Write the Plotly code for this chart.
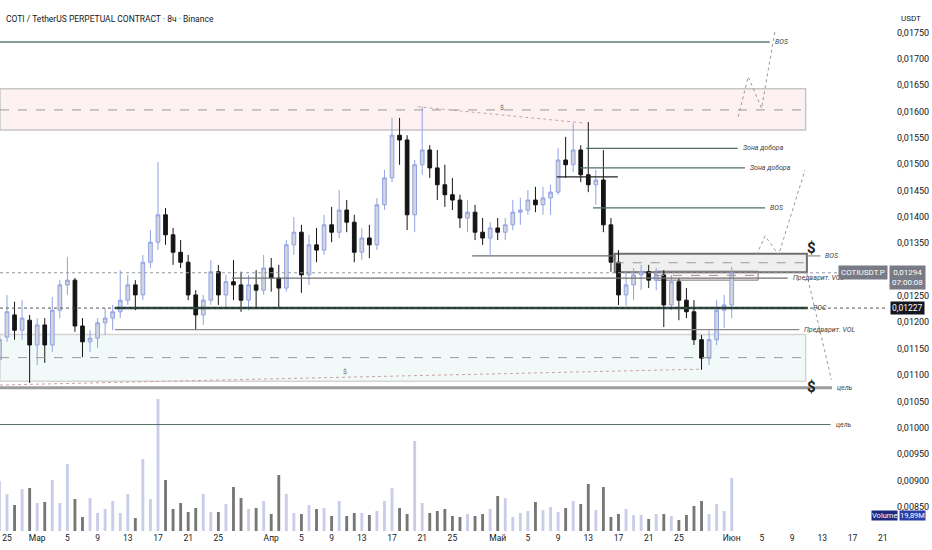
import pandas as pd
import plotly.graph_objects as go

start_day = "2026-02-24"

open_ = [0.01129, 0.01172, 0.01214, 0.01185, 0.01204, 0.01157, 0.01195, 0.01157, 0.01223, 0.01271,
         0.01280, 0.01193, 0.01163, 0.01170, 0.01199, 0.01208, 0.01220, 0.01242, 0.01271, 0.01252,
         0.01314, 0.01352, 0.01404, 0.01366, 0.01333, 0.01314, 0.01252, 0.01214, 0.01242, 0.01296,
         0.01252, 0.01277, 0.01271, 0.01242, 0.01271, 0.01261, 0.01303, 0.01284, 0.01265, 0.01347,
         0.01371, 0.01290, 0.01347, 0.01337, 0.01385, 0.01371, 0.01413, 0.01390, 0.01333, 0.01360,
         0.01347, 0.01423, 0.01474, 0.01555, 0.01546, 0.01404, 0.01499, 0.01527, 0.01493, 0.01461,
         0.01442, 0.01432, 0.01398, 0.01409, 0.01371, 0.01360, 0.01379, 0.01371, 0.01385, 0.01409,
         0.01413, 0.01432, 0.01423, 0.01436, 0.01447, 0.01508, 0.01499, 0.01527, 0.01480, 0.01461,
         0.01470, 0.01385, 0.01314, 0.01252, 0.01271, 0.01290, 0.01296, 0.01280, 0.01290, 0.01233,
         0.01277, 0.01242, 0.01220, 0.01167, 0.01132, 0.01167, 0.01223, 0.01233]
high_ = [0.01176, 0.01252, 0.01239, 0.01242, 0.01214, 0.01208, 0.01208, 0.01248, 0.01280, 0.01324,
         0.01284, 0.01208, 0.01185, 0.01208, 0.01227, 0.01233, 0.01299, 0.01290, 0.01280, 0.01328,
         0.01375, 0.01504, 0.01417, 0.01379, 0.01356, 0.01328, 0.01261, 0.01252, 0.01318, 0.01309,
         0.01290, 0.01318, 0.01296, 0.01290, 0.01299, 0.01328, 0.01322, 0.01309, 0.01356, 0.01400,
         0.01385, 0.01366, 0.01379, 0.01404, 0.01419, 0.01451, 0.01432, 0.01404, 0.01379, 0.01385,
         0.01436, 0.01489, 0.01588, 0.01588, 0.01555, 0.01508, 0.01609, 0.01536, 0.01527, 0.01499,
         0.01474, 0.01442, 0.01432, 0.01423, 0.01398, 0.01390, 0.01398, 0.01398, 0.01432, 0.01436,
         0.01451, 0.01457, 0.01457, 0.01461, 0.01531, 0.01552, 0.01578, 0.01536, 0.01580, 0.01489,
         0.01527, 0.01398, 0.01337, 0.01296, 0.01303, 0.01309, 0.01309, 0.01303, 0.01299, 0.01290,
         0.01284, 0.01265, 0.01242, 0.01176, 0.01185, 0.01242, 0.01252, 0.01305]
low_ = [0.01081, 0.01163, 0.01167, 0.01167, 0.01085, 0.01119, 0.01123, 0.01144, 0.01208, 0.01252,
        0.01182, 0.01134, 0.01144, 0.01151, 0.01176, 0.01185, 0.01208, 0.01233, 0.01223, 0.01242,
        0.01303, 0.01337, 0.01347, 0.01309, 0.01303, 0.01242, 0.01185, 0.01195, 0.01233, 0.01233,
        0.01227, 0.01242, 0.01220, 0.01223, 0.01227, 0.01252, 0.01258, 0.01229, 0.01258, 0.01328,
        0.01256, 0.01271, 0.01314, 0.01328, 0.01352, 0.01360, 0.01371, 0.01314, 0.01318, 0.01322,
        0.01337, 0.01413, 0.01466, 0.01499, 0.01375, 0.01371, 0.01480, 0.01474, 0.01432, 0.01419,
        0.01413, 0.01379, 0.01371, 0.01356, 0.01347, 0.01328, 0.01356, 0.01356, 0.01375, 0.01385,
        0.01404, 0.01409, 0.01404, 0.01404, 0.01442, 0.01474, 0.01485, 0.01466, 0.01447, 0.01423,
        0.01371, 0.01296, 0.01233, 0.01231, 0.01242, 0.01261, 0.01265, 0.01261, 0.01191, 0.01223,
        0.01204, 0.01208, 0.01157, 0.01110, 0.01119, 0.01157, 0.01189, 0.01208]
close_ = [0.01167, 0.01220, 0.01185, 0.01208, 0.01157, 0.01195, 0.01157, 0.01223, 0.01271, 0.01280,
          0.01193, 0.01163, 0.01170, 0.01199, 0.01208, 0.01220, 0.01242, 0.01271, 0.01252, 0.01314,
          0.01352, 0.01404, 0.01366, 0.01333, 0.01314, 0.01252, 0.01214, 0.01242, 0.01296, 0.01252,
          0.01277, 0.01271, 0.01242, 0.01271, 0.01261, 0.01303, 0.01284, 0.01265, 0.01347, 0.01371,
          0.01290, 0.01347, 0.01337, 0.01385, 0.01371, 0.01413, 0.01390, 0.01333, 0.01360, 0.01347,
          0.01423, 0.01474, 0.01555, 0.01546, 0.01404, 0.01499, 0.01527, 0.01493, 0.01461, 0.01442,
          0.01432, 0.01398, 0.01409, 0.01371, 0.01360, 0.01379, 0.01371, 0.01385, 0.01409, 0.01413,
          0.01432, 0.01423, 0.01436, 0.01447, 0.01508, 0.01499, 0.01527, 0.01480, 0.01461, 0.01470,
          0.01385, 0.01314, 0.01252, 0.01271, 0.01290, 0.01296, 0.01280, 0.01290, 0.01233, 0.01277,
          0.01242, 0.01220, 0.01167, 0.01132, 0.01167, 0.01223, 0.01233, 0.01294]
# volume in millions (tallest 8h bar of each day)
volume_m = [100, 74, 52, 84, 86, 56, 58, 102, 56, 134,
            64, 28, 66, 36, 44, 60, 36, 74, 26, 144,
            64, 264, 102, 44, 56, 38, 46, 74, 38, 38,
            54, 88, 66, 44, 46, 60, 34, 112, 74, 36,
            34, 52, 44, 46, 30, 60, 30, 36, 36, 32,
            40, 60, 86, 46, 34, 180, 56, 36, 40, 44,
            30, 28, 34, 30, 34, 44, 70, 66, 28, 36,
            40, 58, 42, 48, 38, 46, 60, 54, 94, 42,
            88, 28, 34, 44, 32, 32, 24, 34, 34, 30,
            22, 32, 50, 60, 34, 54, 40, 106]

x_tick_dates = ["2026-02-25", "2026-03-01", "2026-03-05", "2026-03-09", "2026-03-13", "2026-03-17",
                "2026-03-21", "2026-03-25", "2026-04-01", "2026-04-05", "2026-04-09", "2026-04-13",
                "2026-04-17", "2026-04-21", "2026-04-25", "2026-05-01", "2026-05-05", "2026-05-09",
                "2026-05-13", "2026-05-17", "2026-05-21", "2026-05-25", "2026-06-01", "2026-06-05",
                "2026-06-09", "2026-06-13", "2026-06-17", "2026-06-21"]
x_tick_text = ["25", "Мар", "5", "9", "13", "17", "21", "25", "Апр", "5", "9", "13", "17", "21", "25",
               "Май", "5", "9", "13", "17", "21", "25", "Июн", "5", "9", "13", "17", "21"]
y_tick_vals = [0.0085, 0.0090, 0.0095, 0.0100, 0.0105, 0.0110, 0.0115, 0.0120, 0.0125,
               0.0135, 0.0140, 0.0145, 0.0150, 0.0155, 0.0160, 0.0165, 0.0170, 0.0175]
y_tick_text = ["0,00850", "0,00900", "0,00950", "0,01000", "0,01050", "0,01100", "0,01150", "0,01200",
               "0,01250", "0,01350", "0,01400", "0,01450", "0,01500", "0,01550", "0,01600", "0,01650",
               "0,01700", "0,01750"]

last_price = 0.01294
poc_price = 0.01227
x_left, x_right = "2026-02-24 01:46", "2026-06-21 16:48"

# drawn levels
level_text = ["BOS", "Зона добора", "Зона добора", "", "BOS", "", "Предварит. VOL", "POC",
              "Предварит. VOL", "BOS", "цель", "цель"]
level_price = [0.01732, 0.01530, 0.01493, 0.01476, 0.01417, 0.01326, 0.01284, 0.01227,
               0.01186, 0.01326, 0.01076, 0.01006]
level_from = [x_left, "2026-05-12 17:00", "2026-05-11 22:00", "2026-05-08 20:00", "2026-05-13 15:00",
              "2026-04-27 15:00", "2026-03-26 19:00", "2026-03-11 07:00", "2026-03-11 07:00",
              "2026-06-10 23:00", x_left, x_left]
level_to = ["2026-06-06 01:00", "2026-06-01 19:00", "2026-06-02 18:00", "2026-05-16 22:00",
            "2026-06-05 10:00", "2026-05-16 12:00", "2026-06-08 10:00", "2026-06-11 02:00",
            "2026-06-09 23:00", "2026-06-12 18:00", "2026-06-14 07:00", "2026-06-14 02:00"]

# zones: supply (pink), demand (green), BOS box, small VOL box
zone_top = [0.01643, 0.01177, 0.01330, 0.01297]
zone_bottom = [0.01565, 0.01088, 0.01295, 0.01280]
zone_mid = [0.01603, 0.01133, 0.01313, 0.01289]
zone_from = [x_left, x_left, "2026-05-16 12:00", "2026-05-21 20:00"]
zone_to = ["2026-06-10 19:00", "2026-06-10 19:00", "2026-06-10 23:00", "2026-06-04 12:00"]

# dotted projections
path_up_x = ["2026-06-01 20:40", "2026-06-03 04:30", "2026-06-04 23:00", "2026-06-06 17:00"]
path_up_y = [0.01590, 0.01666, 0.01606, 0.01751]
path_mid_x = ["2026-06-04 07:00", "2026-06-05 10:00", "2026-06-07 05:00", "2026-06-10 17:00"]
path_mid_y = [0.01328, 0.01364, 0.01328, 0.01489]
path_down_x = ["2026-06-10 22:00", "2026-06-14 05:00"]
path_down_y = [0.01293, 0.01091]
liq_top_x = ["2026-04-20 10:00", "2026-05-12 14:00"]
liq_top_y = [0.01609, 0.01578]
liq_low_x = [x_left, "2026-05-27 19:00"]
liq_low_y = [0.01081, 0.01111]

dollar_x = ["2026-05-01 13:00", "2026-04-10 19:00", "2026-06-11 15:00", "2026-06-11 15:00"]
dollar_y = [0.01606, 0.01106, 0.01341, 0.01077]

days = pd.date_range(start_day, periods=len(close_), freq="D")

fig = go.Figure()

# volume overlay at the bottom of the pane
vol_colors = ["#c9cde9" if c >= o else "#777777" for o, c in zip(open_, close_)]
fig.add_bar(x=days, y=volume_m, yaxis="y2", width=0.38 * 86400000,
            marker=dict(color=vol_colors, line=dict(width=0)), hoverinfo="skip")

fig.add_trace(go.Candlestick(
    x=days, open=open_, high=high_, low=low_, close=close_, hoverinfo="skip",
    increasing=dict(line=dict(color="#8fa2e4", width=1), fillcolor="#d3d5dd"),
    decreasing=dict(line=dict(color="#151515", width=1), fillcolor="#151515"),
))

dot_gray = dict(color="#9a9a9a", width=1, dash="dot")
for px_, py_ in [(path_up_x, path_up_y), (path_mid_x, path_mid_y), (path_down_x, path_down_y)]:
    fig.add_scatter(x=px_, y=py_, mode="lines", line=dot_gray, hoverinfo="skip")
for px_, py_ in [(liq_top_x, liq_top_y), (liq_low_x, liq_low_y)]:
    fig.add_scatter(x=px_, y=py_, mode="lines", line=dict(color="#c9a3a3", width=1, dash="dot"),
                    hoverinfo="skip")

shapes = []
zone_fill = ["rgba(242,54,69,0.07)", "rgba(0,150,136,0.05)", "rgba(150,150,150,0.15)", "rgba(242,54,69,0.05)"]
zone_line = ["#c6c6c6", "#d4d4d4", "#6f6f6f", "#7a7a7a"]
zone_lw = [1.5, 1.5, 2, 1]
for i in range(len(zone_top)):
    shapes.append(dict(type="rect", xref="x", yref="y", x0=zone_from[i], x1=zone_to[i],
                       y0=zone_bottom[i], y1=zone_top[i], fillcolor=zone_fill[i],
                       line=dict(color=zone_line[i], width=zone_lw[i]), layer="below"))
    shapes.append(dict(type="line", xref="x", yref="y", x0=zone_from[i], x1=zone_to[i],
                       y0=zone_mid[i], y1=zone_mid[i], line=dict(color="#9a9a9a", width=1, dash="dash")))

level_color = ["#5c7c70", "#4f6f63", "#4f6f63", "#222222", "#4f6f63", "#6d6d6d", "#707070",
               "#1f3f35", "#8a8a8a", "#8a8a8a", "#9c9c9c", "#4f6f63"]
level_width = [1.5, 1.2, 1.2, 1.2, 1.2, 1.2, 1.2, 2.5, 1.2, 1.2, 3, 1]
for i in range(len(level_price)):
    shapes.append(dict(type="line", xref="x", yref="y", x0=level_from[i], x1=level_to[i],
                       y0=level_price[i], y1=level_price[i],
                       line=dict(color=level_color[i], width=level_width[i])))

# current price and POC lines across the pane
shapes.append(dict(type="line", xref="paper", yref="y", x0=0, x1=1, y0=last_price, y1=last_price,
                   line=dict(color="#9598a1", width=1, dash="dot")))
shapes.append(dict(type="line", xref="paper", yref="y", x0=0, x1=1, y0=poc_price, y1=poc_price,
                   line=dict(color="#555555", width=1, dash="dot")))

annotations = []
for i in range(len(level_price)):
    if level_text[i]:
        annotations.append(dict(x=level_to[i], y=level_price[i], xref="x", yref="y",
                                text=f"<i>{level_text[i]}</i>", showarrow=False, xanchor="left",
                                xshift=3, font=dict(size=7, color="#444444")))
for i in range(len(dollar_x)):
    big = i >= 2
    annotations.append(dict(x=dollar_x[i], y=dollar_y[i], xref="x", yref="y",
                            text="<b>$</b>" if big else "$", showarrow=False,
                            font=dict(size=15 if big else 7, color="#222222" if big else "#666666")))

annotations += [
    dict(x=0.005, y=0.977, xref="paper", yref="paper", xanchor="left", showarrow=False,
         text="COTI / TetherUS PERPETUAL CONTRACT · 8ч · Binance", font=dict(size=8.5, color="#131722")),
    dict(x=1.026, y=0.977, xref="paper", yref="paper", xanchor="center", showarrow=False,
         text="USDT", font=dict(size=8, color="#131722")),
    dict(x=1.0, y=last_price, xref="paper", yref="y", xanchor="right", showarrow=False,
         text="COTIUSDT.P", bgcolor="#787b86", font=dict(size=8, color="white"), borderpad=2),
    dict(x=1.0, y=last_price, xref="paper", yref="y", xanchor="left", yanchor="top", yshift=8,
         xshift=1, showarrow=False, text="0,01294<br>07:00:08", bgcolor="#787b86",
         font=dict(size=8, color="white"), borderpad=2),
    dict(x=1.0, y=poc_price, xref="paper", yref="y", xanchor="left", xshift=2, showarrow=False,
         text="0,01227", bgcolor="#131722", font=dict(size=8.5, color="white"), borderpad=1),
    dict(x=1.011, y=0.018, xref="paper", yref="paper", xanchor="right", showarrow=False,
         text="Volume", bgcolor="#1c2a80", font=dict(size=7.5, color="white"), borderpad=0),
    dict(x=1.012, y=0.018, xref="paper", yref="paper", xanchor="left", showarrow=False,
         text="19,89M", bgcolor="#2a3ea6", font=dict(size=7.5, color="white"), borderpad=0),
]

fig.update_layout(
    width=932, height=550,
    margin=dict(l=0, r=44, t=0, b=19),
    paper_bgcolor="white", plot_bgcolor="white",
    font=dict(family="Roboto", color="#131722"),
    showlegend=False, hovermode=False,
    shapes=shapes, annotations=annotations,
    xaxis=dict(type="date", range=[x_left, x_right], rangeslider=dict(visible=False),
               tickvals=x_tick_dates, ticktext=x_tick_text, showgrid=False, zeroline=False,
               ticks="", tickfont=dict(size=8.5)),
    yaxis=dict(side="right", range=[0.00804, 0.018116], tickvals=y_tick_vals, ticktext=y_tick_text,
               showgrid=False, zeroline=False, ticks="", ticklabelstandoff=8, tickfont=dict(size=9)),
    yaxis2=dict(overlaying="y", range=[0, 1062], visible=False),
)

fig.write_html("out.html", config={"displayModeBar": False},
               post_script="document.body.style.margin='0';")
